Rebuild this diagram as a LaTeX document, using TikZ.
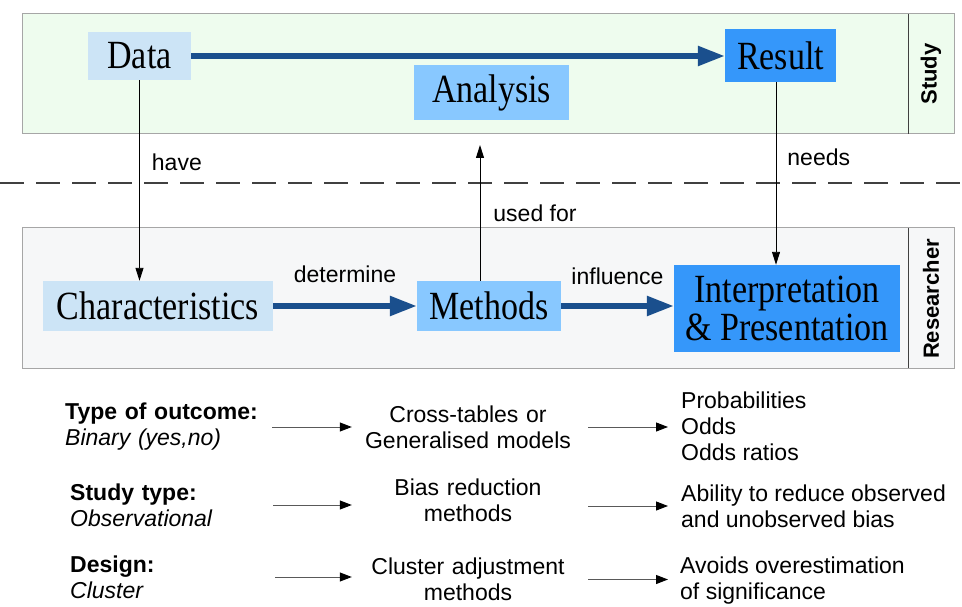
\documentclass[tikz,border=0pt]{standalone}
\usepackage{fontspec}
\setmainfont{Liberation Sans}
\newfontfamily\boxfont{Liberation Serif}
\usepackage{graphicx}
\usetikzlibrary{arrows.meta}

\definecolor{studybg}{HTML}{EEFCEE}
\definecolor{researchbg}{HTML}{F6F7F8}
\definecolor{paleblue}{HTML}{CCE4F6}
\definecolor{skyblue}{HTML}{88C8FF}
\definecolor{deepblue}{HTML}{3597FA}
\definecolor{arrowblue}{HTML}{1A4F8D}

\newcommand{\narrow}[1]{\scalebox{0.85}[1]{#1}}

\begin{document}
\begin{tikzpicture}[x=1pt,y=-1pt,
  every node/.style={font=\fontsize{23}{26}\selectfont},
  box/.style={inner sep=0pt, align=center, font=\boxfont\fontsize{40}{38}\selectfont},
  band/.style={draw=black!35, line width=1pt},
  bigarrow/.style={line width=5.5pt, draw=arrowblue, -{Triangle[length=27pt,width=19pt]}},
  thinarrow/.style={line width=0.9pt, -{Triangle[length=13pt,width=8pt]}},
  listarrow/.style={line width=1pt, draw=black!65, -{Triangle[length=12pt,width=9pt,color=black]}},
  lbl/.style={inner sep=0pt},
  leftcol/.style={anchor=west, inner sep=0pt, text width=205pt, align=left},
  midcol/.style={inner sep=0pt, text width=216pt, align=center},
  rightcol/.style={anchor=west, inner sep=0pt, align=left}]
\useasboundingbox (0,0) rectangle (962,607);

% les deux bandes
\filldraw[band, fill=studybg] (22,14) rectangle (954,134);
\filldraw[band, fill=researchbg] (22,228) rectangle (954,368);
\draw[black!75, line width=0.9pt] (908,14) -- (908,134);
\draw[black!75, line width=0.9pt] (908,228) -- (908,368);
\node[rotate=90, font=\bfseries\fontsize{22}{24}\selectfont] (studytag) at (931,74) {Study};
\node[rotate=90, font=\bfseries\fontsize{22}{24}\selectfont] (researchtag) at (931,299) {Researcher};

% ligne pointillée
\draw[black!75, line width=1.1pt, dash pattern=on 24pt off 12pt] (0,183) -- (962,183);

% boîtes du haut
\node[box, fill=paleblue, minimum width=103, minimum height=48] (data) at (139.5,56) {\narrow{Data}};
\node[box, fill=deepblue, minimum width=111, minimum height=53] (result) at (780.5,55.5) {\narrow{Result}};
\node[box, fill=skyblue, minimum width=155, minimum height=55] (analysis) at (491.5,92.5) {\narrow{Analysis}};

% boîtes du bas
\node[box, fill=paleblue, minimum width=230, minimum height=50] (chars) at (158,306) {\narrow{Characteristics}};
\node[box, fill=skyblue, minimum width=144, minimum height=50] (methods) at (489,306) {\narrow{Methods}};
\node[box, fill=deepblue, minimum width=226, minimum height=87] (interp) at (787,308.5) {\narrow{Interpretation}\\\narrow{\& Presentation}};

% flèches épaisses
\draw[bigarrow] (data.east) -- (data.east -| result.west);
\draw[bigarrow] (chars.east) -- (methods.west) node[midway, above=21pt, lbl] {determine};
\draw[bigarrow] (methods.east) -- (methods.east -| interp.west) node[midway, above=19pt, lbl] {influence};

% flèches fines
\coordinate (usedtip) at (480,145);
\draw[thinarrow] (data.south) -- (data.south |- chars.north) node[pos=0.41, right=12pt, lbl] {have};
\draw[thinarrow] (methods.north -| usedtip) -- (usedtip) node[pos=0.5, right=13pt, lbl] {used for};
\draw[thinarrow] ([xshift=-4.5pt]result.south) -- ([xshift=-4.5pt]result.south |- interp.north) node[pos=0.41, right=11pt, lbl] {needs};

% liste du bas
\node[leftcol] (outcome) at (65,427) {\textbf{Type of outcome:}\\\textit{Binary (yes,no)}};
\node[midcol] (crosstab) at (468,427) {Cross-tables or\\Generalised models};
\node[rightcol] (probs) at (681,426) {Probabilities\\Odds\\Odds ratios};

\node[leftcol] (studytype) at (70,505) {\textbf{Study type:}\\\textit{Observational}};
\node[midcol] (biasred) at (468,500) {Bias reduction\\methods};
\node[rightcol] (ability) at (681,506) {Ability to reduce observed\\and unobserved bias};

\node[leftcol] (design) at (70,577) {\textbf{Design:}\\\textit{Cluster}};
\node[midcol] (clusteradj) at (468,579.5) {Cluster adjustment\\methods};
\node[rightcol] (avoids) at (680,581) {Avoids overestimation\\of significance};

\draw[listarrow, shorten <=2pt, shorten >=8pt] (outcome.east) -- (outcome.east -| crosstab.west);
\draw[listarrow, shorten <=12pt, shorten >=13pt] (crosstab.east) -- (crosstab.east -| probs.west);
\draw[listarrow, shorten <=-2pt, shorten >=8pt] (studytype.east) -- (studytype.east -| biasred.west);
\draw[listarrow, shorten <=12pt, shorten >=13pt] (ability.west -| biasred.east) -- (ability.west);
\draw[listarrow, shorten <=0pt, shorten >=8pt] (design.east) -- (design.east -| clusteradj.west);
\draw[listarrow, shorten <=12pt, shorten >=12pt] (clusteradj.east) -- (clusteradj.east -| avoids.west);
\end{tikzpicture}
\end{document}
